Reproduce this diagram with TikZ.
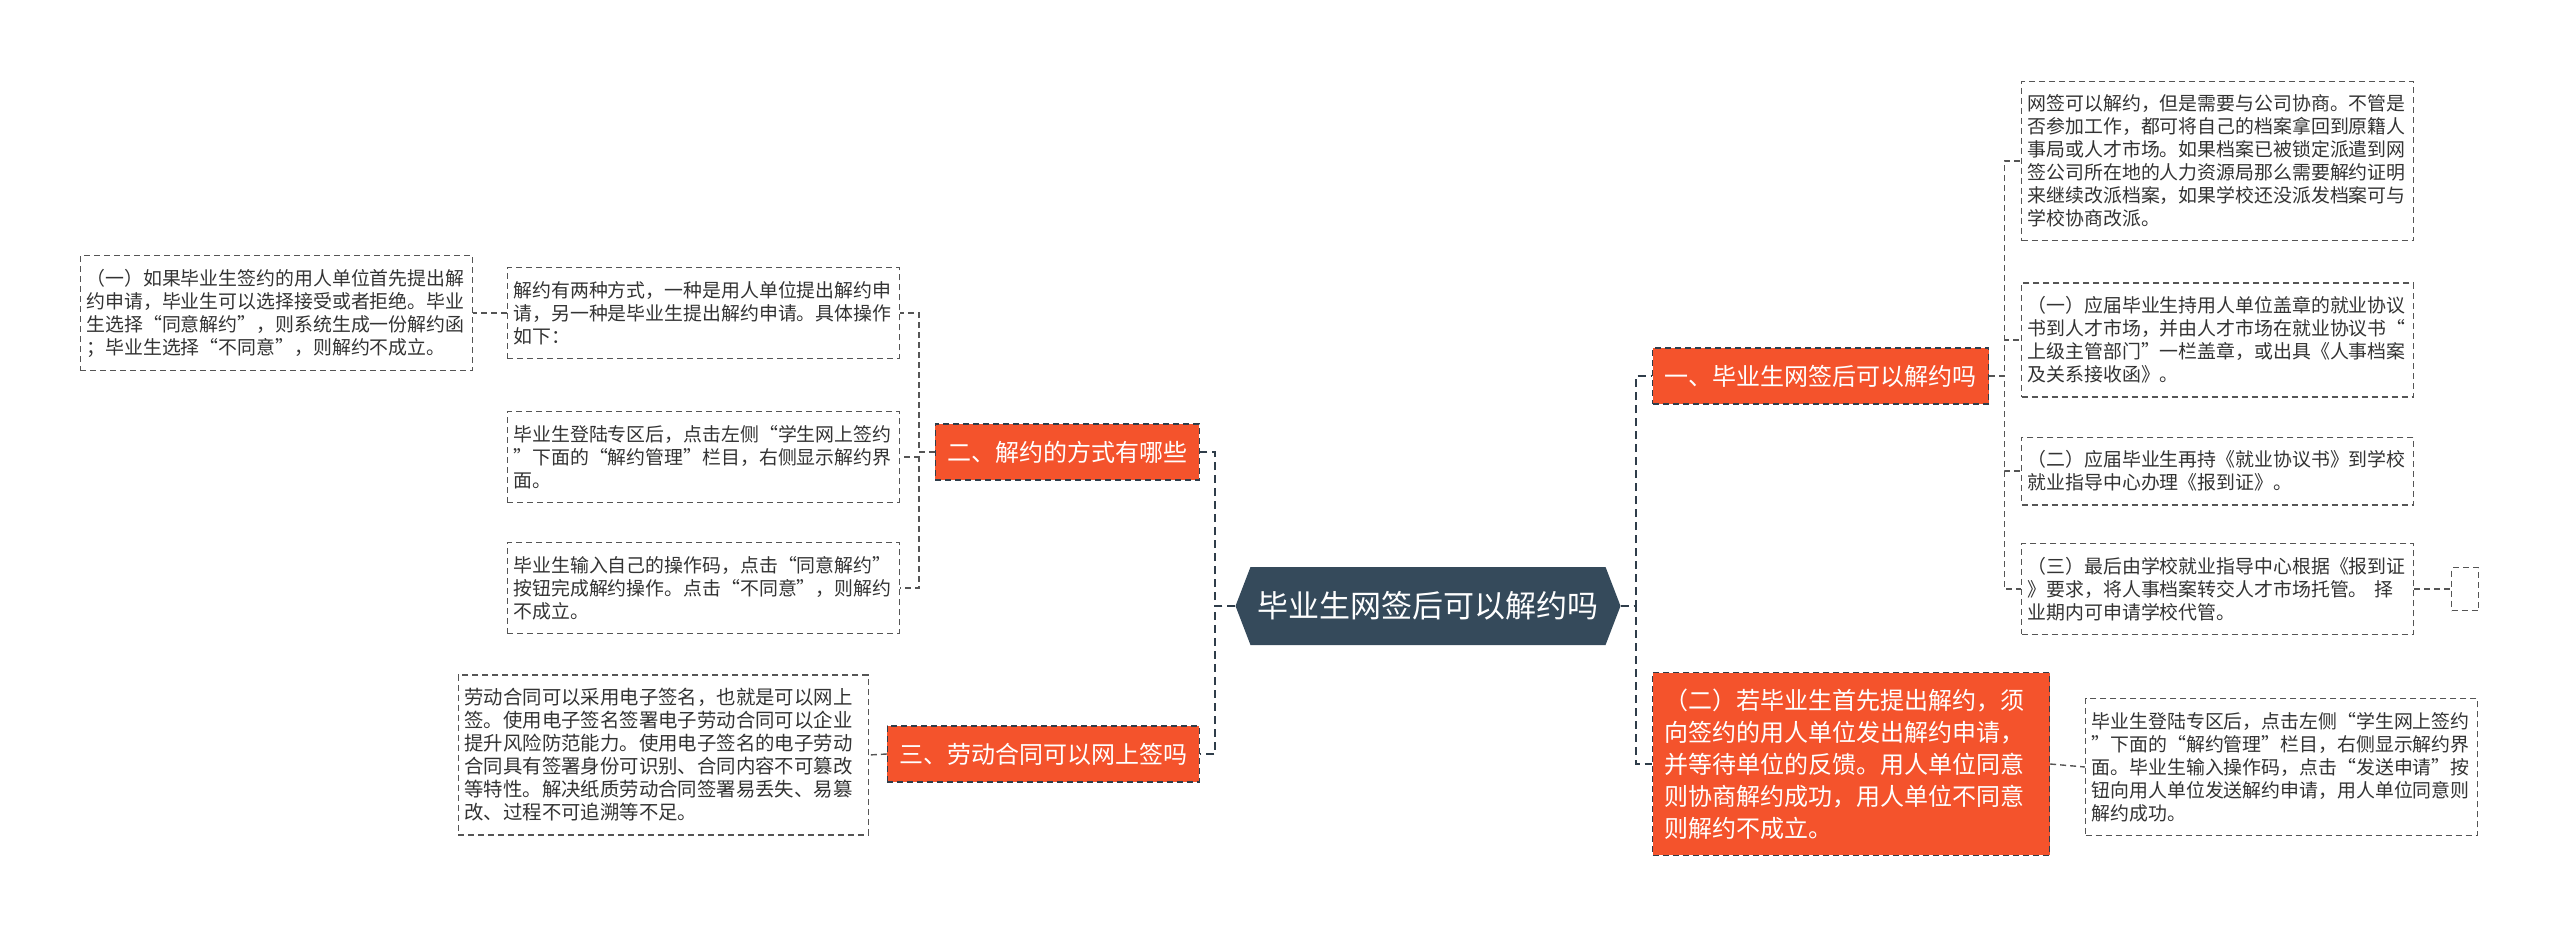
\documentclass[tikz,border=0pt]{standalone}
\usepackage{fontspec}
\setmainfont{Noto Sans CJK SC}
\usetikzlibrary{shapes.symbols}
\definecolor{hubc}{HTML}{354A5B}
\definecolor{tangc}{HTML}{F4532C}
\definecolor{linec}{HTML}{2F3D4A}
\definecolor{boxc}{HTML}{555555}
\definecolor{txtc}{HTML}{333333}

\begin{document}
\begin{tikzpicture}[x=1pt, y=-1pt,
  hub/.style={signal, signal to=west and east, signal pointer angle=138, fill=hubc,
    text=white, font=\fontsize{31}{36}\selectfont, minimum width=385pt, minimum height=78pt, inner xsep=4pt},
  topic/.style={fill=tangc, draw=linec, dash pattern=on 6pt off 4pt, line width=1.2pt,
    text=white, font=\fontsize{24}{32}\selectfont, inner xsep=12pt, minimum height=56pt},
  leaf/.style={draw=boxc, dash pattern=on 6pt off 4pt, line width=1.2pt, fill=white,
    text=txtc, font=\fontsize{18.9}{23}\selectfont, align=left, text width=380pt,
    inner xsep=6pt, inner ysep=13.5pt},
  link/.style={draw=linec, dash pattern=on 8pt off 5pt, line width=2.4pt},
  twig/.style={draw=boxc, dash pattern=on 6pt off 4pt, line width=1.4pt},
]
\useasboundingbox (0,0) rectangle (2560,939);

% centre
\node[hub] (hub) at (1428,606) {毕业生网签后可以解约吗};

% === left branches ===
\node[topic, anchor=east] (t2) at (1200,452) {二、解约的方式有哪些};
\node[topic, anchor=east] (t3) at (1200,754) {三、劳动合同可以网上签吗};

\node[leaf, anchor=east] (lA) at (900,313) {解约有两种方式，一种是用人单位提出解约申\\
请，另一种是毕业生提出解约申请。具体操作\\
如下：};
\node[leaf, anchor=east] (lB) at (900,457) {毕业生登陆专区后，点击左侧“学生网上签约\\
”下面的“解约管理”栏目，右侧显示解约界\\
面。};
\node[leaf, anchor=east] (lC) at (900,588) {毕业生输入自己的操作码，点击“同意解约”\\
按钮完成解约操作。点击“不同意”，则解约\\
不成立。};
\node[leaf, anchor=east] (lD) at (473,313) {（一）如果毕业生签约的用人单位首先提出解\\
约申请，毕业生可以选择接受或者拒绝。毕业\\
生选择“同意解约”，则系统生成一份解约函\\
；毕业生选择“不同意”，则解约不成立。};
\node[leaf, anchor=east, text width=398pt, font=\fontsize{19.4}{23}\selectfont] (lE) at (869,755) {劳动合同可以采用电子签名，也就是可以网上\\
签。使用电子签名签署电子劳动合同可以企业\\
提升风险防范能力。使用电子签名的电子劳动\\
合同具有签署身份可识别、合同内容不可篡改\\
等特性。解决纸质劳动合同签署易丢失、易篡\\
改、过程不可追溯等不足。};

% === right branches ===
\node[topic, anchor=west] (t1) at (1652,376) {一、毕业生网签后可以解约吗};
\node[topic, anchor=west, align=left, text width=373pt, inner ysep=16pt] (t4) at (1652,764)
  {（二）若毕业生首先提出解约，须\\
向签约的用人单位发出解约申请，\\
并等待单位的反馈。用人单位同意\\
则协商解约成功，用人单位不同意\\
则解约不成立。};

\node[leaf, anchor=west] (r1) at (2021,161) {网签可以解约，但是需要与公司协商。不管是\\
否参加工作，都可将自己的档案拿回到原籍人\\
事局或人才市场。如果档案已被锁定派遣到网\\
签公司所在地的人力资源局那么需要解约证明\\
来继续改派档案，如果学校还没派发档案可与\\
学校协商改派。};
\node[leaf, anchor=west] (r2) at (2021,340) {（一）应届毕业生持用人单位盖章的就业协议\\
书到人才市场，并由人才市场在就业协议书“\\
上级主管部门”一栏盖章，或出具《人事档案\\
及关系接收函》。};
\node[leaf, anchor=west] (r3) at (2021,471) {（二）应届毕业生再持《就业协议书》到学校\\
就业指导中心办理《报到证》。};
\node[leaf, anchor=west] (r4) at (2021,589) {（三）最后由学校就业指导中心根据《报到证\\
》要求，将人事档案转交人才市场托管。 择\\
业期内可申请学校代管。};
\node[leaf, anchor=west, text width=15pt, minimum height=43pt] (r5) at (2451,589) {};
\node[leaf, anchor=west] (r6) at (2085,767) {毕业生登陆专区后，点击左侧“学生网上签约\\
”下面的“解约管理”栏目，右侧显示解约界\\
面。毕业生输入操作码，点击“发送申请”按\\
钮向用人单位发送解约申请，用人单位同意则\\
解约成功。};

% === connectors ===
\draw[link] (hub.west) -- ++(-20,0) |- (t2.east);
\draw[link] (hub.west) -- ++(-20,0) |- (t3.east);
\draw[link] (hub.east) -- ++(15,0) |- (t1.west);
\draw[link] (hub.east) -- ++(15,0) |- (t4.west);

\draw[twig] (t2.west) -- ++(-16,0) |- (lA.east);
\draw[twig] (t2.west) -- ++(-16,0) |- (lB.east);
\draw[twig] (t2.west) -- ++(-16,0) |- (lC.east);
\draw[twig] (lA.west) -- (lD.east);
\draw[twig] (t3.west) -- (lE.east);

\draw[twig] (t1.east) -- ++(15,0) |- (r1.west);
\draw[twig] (t1.east) -- ++(15,0) |- (r2.west);
\draw[twig] (t1.east) -- ++(15,0) |- (r3.west);
\draw[twig] (t1.east) -- ++(15,0) |- (r4.west);
\draw[twig] (r4.east) -- (r5.west);
\draw[twig] (t4.east) -- (r6.west);

\end{tikzpicture}
\end{document}
